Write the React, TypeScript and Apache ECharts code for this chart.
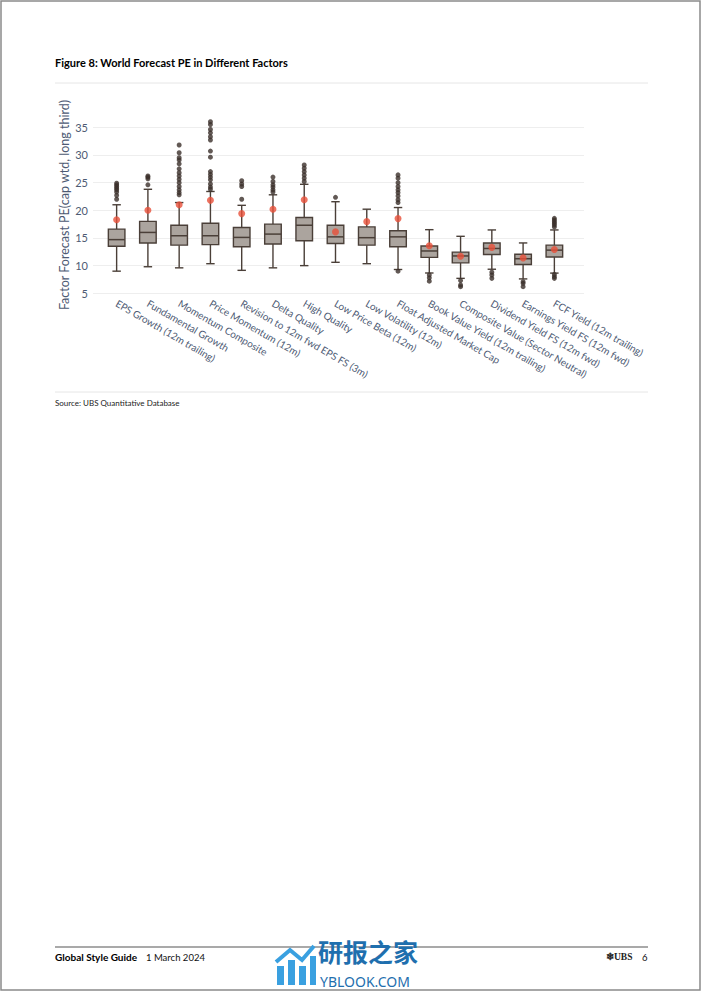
import React, { useEffect, useRef } from "react";
import * as echarts from "echarts";

const categories = [
  "EPS Growth (12m trailing)",
  "Fundamental Growth",
  "Momentum Composite",
  "Price Momentum (12m)",
  "Revision to 12m fwd EPS FS (3m)",
  "Delta Quality",
  "High Quality",
  "Low Price Beta (12m)",
  "Low Volatility (12m)",
  "Float Adjusted Market Cap",
  "Book Value Yield (12m trailing)",
  "Composite Value (Sector Neutral)",
  "Dividend Yield FS (12m fwd)",
  "Earnings Yield FS (12m fwd)",
  "FCF Yield (12m trailing)",
];

const whiskerLow = [9.0, 9.8, 9.6, 10.35, 9.15, 9.6, 10.0, 10.6, 10.35, 9.3, 8.67, 7.7, 9.35, 7.6, 8.65];
const q1 = [13.5, 14.1, 13.7, 13.8, 13.4, 13.9, 14.5, 14.0, 13.7, 13.4, 11.5, 10.5, 12.0, 10.2, 11.55];
const median = [14.7, 16.0, 15.4, 15.4, 15.1, 15.7, 17.3, 15.2, 15.05, 15.2, 12.65, 11.75, 13.1, 11.25, 12.8];
const q3 = [16.6, 18.0, 17.3, 17.65, 16.9, 17.5, 18.7, 17.3, 17.0, 16.3, 13.55, 12.45, 14.1, 12.05, 13.7];
const whiskerHigh = [21.0, 23.8, 21.4, 23.4, 20.9, 22.8, 24.7, 21.55, 20.2, 20.5, 16.5, 15.3, 16.45, 14.1, 16.45];
const means = [18.3, 20.0, 21.0, 21.8, 19.4, 20.2, 21.9, 16.1, 17.95, 18.5, 13.6, 11.7, 13.3, 11.4, 12.9];

const outliers: number[][] = [
  [22.0, 22.7, 23.3, 23.7, 24.0, 24.3, 24.6, 24.9],
  [24.6, 25.7, 26.0, 26.2],
  [22.8, 23.2, 23.7, 24.3, 25.0, 25.6, 26.2, 26.8, 27.5, 28.4, 29.1, 29.5, 30.4, 31.8],
  [23.8, 24.2, 24.75, 25.5, 26.0, 26.5, 27.0, 29.6, 30.7, 32.7, 33.3, 34.0, 34.6, 35.5, 36.0],
  [22.0, 24.3, 24.75, 25.35],
  [23.3, 23.7, 24.2, 24.6, 25.2, 26.0],
  [25.2, 25.8, 26.4, 27.0, 27.6, 28.2],
  [22.35],
  [],
  [21.4, 21.9, 22.6, 23.2, 23.7, 24.3, 25.0, 25.8, 26.4, 9.0],
  [8.3, 7.8, 7.2],
  [7.3, 6.5, 6.2],
  [8.8, 8.3, 7.7],
  [7.1, 6.8, 6.2],
  [17.0, 17.35, 17.65, 17.95, 18.25, 18.55, 8.4, 8.0, 7.7],
];

const yTicks = { min: 5, max: 35, interval: 5 };

const FONT = "Lato";
const AXIS_TEXT = "#4d5a73";
const BOX_STROKE = "#4a3f38";

export default function App() {
  const ref = useRef<HTMLDivElement>(null);

  useEffect(() => {
    document.body.style.margin = "0";
    const chart = echarts.init(ref.current!, null, { renderer: "svg" });

    const boxData = categories.map((_, i) => [i, whiskerLow[i], q1[i], median[i], q3[i], whiskerHigh[i]]);
    const outlierData: number[][] = [];
    outliers.forEach((arr, i) => arr.forEach((v) => outlierData.push([i, v])));
    const meanData = means.map((v, i) => [i, v]);

    const top = 127.3;
    const height = 166;

    const option: any = {
      animation: false,
      backgroundColor: "#ffffff",
      textStyle: { fontFamily: FONT },
      grid: [
        { left: 93, right: 702 - 584, top, height },
        { left: 101, width: 469, top, height },
      ],
      xAxis: [
        { gridIndex: 0, type: "value", min: 0, max: 1, show: false },
        {
          gridIndex: 1,
          type: "category",
          data: categories,
          boundaryGap: true,
          axisLine: { show: false },
          axisTick: { show: false },
          splitLine: { show: false },
          axisLabel: {
            rotate: -30,
            interval: 0,
            margin: 9,
            color: AXIS_TEXT,
            fontSize: 10,
            fontFamily: FONT,
          },
        },
      ],
      yAxis: [
        {
          gridIndex: 0,
          type: "value",
          min: yTicks.min,
          max: yTicks.max,
          interval: yTicks.interval,
          axisLine: { show: false },
          axisTick: { show: false },
          splitLine: { show: true, lineStyle: { color: "#eeeeee", width: 1 } },
          axisLabel: { color: AXIS_TEXT, fontSize: 11, margin: 5, fontFamily: FONT },
        },
        {
          gridIndex: 1,
          type: "value",
          min: yTicks.min,
          max: yTicks.max,
          interval: yTicks.interval,
          show: false,
        },
      ],
      series: [
        {
          type: "custom",
          xAxisIndex: 1,
          yAxisIndex: 1,
          clip: false,
          z: 2,
          data: boxData,
          encode: { x: 0, y: [1, 2, 3, 4, 5] },
          renderItem: (params: any, api: any) => {
            const i = api.value(0);
            const lo = api.coord([i, api.value(1)]);
            const a = api.coord([i, api.value(2)]);
            const m = api.coord([i, api.value(3)]);
            const b = api.coord([i, api.value(4)]);
            const hi = api.coord([i, api.value(5)]);
            const band = api.size([1, 0])[0];
            const bw = band * 0.53;
            const cw = band * 0.27;
            const x = lo[0];
            const ls = { stroke: BOX_STROKE, lineWidth: 1.4 };
            return {
              type: "group",
              children: [
                { type: "line", shape: { x1: x, y1: hi[1], x2: x, y2: b[1] }, style: ls },
                { type: "line", shape: { x1: x, y1: lo[1], x2: x, y2: a[1] }, style: ls },
                { type: "line", shape: { x1: x - cw / 2, y1: hi[1], x2: x + cw / 2, y2: hi[1] }, style: ls },
                { type: "line", shape: { x1: x - cw / 2, y1: lo[1], x2: x + cw / 2, y2: lo[1] }, style: ls },
                {
                  type: "rect",
                  shape: { x: x - bw / 2, y: b[1], width: bw, height: a[1] - b[1] },
                  style: { fill: "#aba49e", stroke: BOX_STROKE, lineWidth: 1.4 },
                },
                { type: "line", shape: { x1: x - bw / 2, y1: m[1], x2: x + bw / 2, y2: m[1] }, style: { stroke: BOX_STROKE, lineWidth: 1.5 } },
              ],
            };
          },
        },
        {
          type: "scatter",
          xAxisIndex: 1,
          yAxisIndex: 1,
          clip: false,
          z: 3,
          symbol: "circle",
          symbolSize: 5,
          itemStyle: { color: "#3b2f2a" },
          data: outlierData,
        },
        {
          type: "scatter",
          xAxisIndex: 1,
          yAxisIndex: 1,
          clip: false,
          z: 4,
          symbol: "circle",
          symbolSize: 7,
          itemStyle: { color: "#e8503a" },
          data: meanData,
        },
      ],
      graphic: [
        {
          type: "rect",
          shape: { x: 1, y: 1, width: 699, height: 989 },
          style: { fill: "none", stroke: "#8a8a8a", lineWidth: 1.5 },
          silent: true,
        },
        {
          type: "text",
          x: 55,
          y: 62,
          style: {
            text: "Figure 8: World Forecast PE in Different Factors",
            fontFamily: FONT,
            fontWeight: "bold",
            fontSize: 11,
            fill: "#000000",
            textVerticalAlign: "middle",
          },
        },
        { type: "line", shape: { x1: 55, y1: 83, x2: 648, y2: 83 }, style: { stroke: "#e6e6e6", lineWidth: 1 } },
        {
          type: "text",
          x: 64,
          y: 205,
          rotation: Math.PI / 2,
          style: {
            text: "Factor Forecast PE(cap wtd, long third)",
            fontFamily: FONT,
            fontSize: 12.5,
            fill: AXIS_TEXT,
            textAlign: "center",
            textVerticalAlign: "middle",
          },
        },
        { type: "line", shape: { x1: 55, y1: 392, x2: 648, y2: 392 }, style: { stroke: "#e6e6e6", lineWidth: 1 } },
        {
          type: "text",
          x: 55,
          y: 403,
          style: {
            text: "Source: UBS Quantitative Database",
            fontFamily: FONT,
            fontSize: 8,
            fill: "#222222",
            textVerticalAlign: "middle",
          },
        },
        { type: "line", shape: { x1: 55, y1: 947, x2: 648, y2: 947 }, style: { stroke: "#8c8c8c", lineWidth: 1.5 } },
        {
          type: "text",
          x: 55,
          y: 957,
          style: {
            text: "Global Style Guide",
            fontFamily: FONT,
            fontWeight: "bold",
            fontSize: 10,
            fill: "#000000",
            textVerticalAlign: "middle",
          },
        },
        {
          type: "text",
          x: 146,
          y: 957,
          style: {
            text: "1 March 2024",
            fontFamily: FONT,
            fontSize: 9.5,
            fill: "#111111",
            textVerticalAlign: "middle",
          },
        },
        {
          type: "text",
          x: 606,
          y: 957,
          style: {
            text: "❄UBS",
            fontFamily: "Liberation Serif",
            fontWeight: "bold",
            fontSize: 9.5,
            fill: "#222222",
            textVerticalAlign: "middle",
          },
        },
        {
          type: "text",
          x: 642,
          y: 957,
          style: { text: "6", fontFamily: FONT, fontSize: 9.5, fill: "#111111", textVerticalAlign: "middle" },
        },
        // watermark
        { type: "rect", shape: { x: 277, y: 966, width: 7, height: 19 }, style: { fill: "#3aa0e0" } },
        { type: "rect", shape: { x: 288, y: 960, width: 7, height: 25 }, style: { fill: "#3aa0e0" } },
        { type: "rect", shape: { x: 299, y: 966, width: 7, height: 19 }, style: { fill: "#3aa0e0" } },
        { type: "rect", shape: { x: 310, y: 956, width: 6, height: 29 }, style: { fill: "#3aa0e0" } },
        {
          type: "polyline",
          shape: { points: [[276, 962], [290, 950], [302, 960], [314, 946]] },
          style: { stroke: "#3aa0e0", lineWidth: 4, fill: "none" },
        },
        {
          type: "text",
          x: 318,
          y: 951,
          style: {
            text: "研报之家",
            fontFamily: "Noto Sans CJK SC",
            fontWeight: "bold",
            fontSize: 25,
            lineHeight: 25,
            fill: "#1f6fae",
            textVerticalAlign: "middle",
          },
        },
        {
          type: "text",
          x: 320,
          y: 981,
          style: {
            text: "YBLOOK.COM",
            fontFamily: "Noto Sans",
            fontSize: 14,
            lineHeight: 14,
            fill: "#1f6fae",
            textVerticalAlign: "middle",
          },
        },
      ],
    };

    chart.setOption(option);
    return () => chart.dispose();
  }, []);

  return <div ref={ref} style={{ width: 702, height: 992 }} />;
}
